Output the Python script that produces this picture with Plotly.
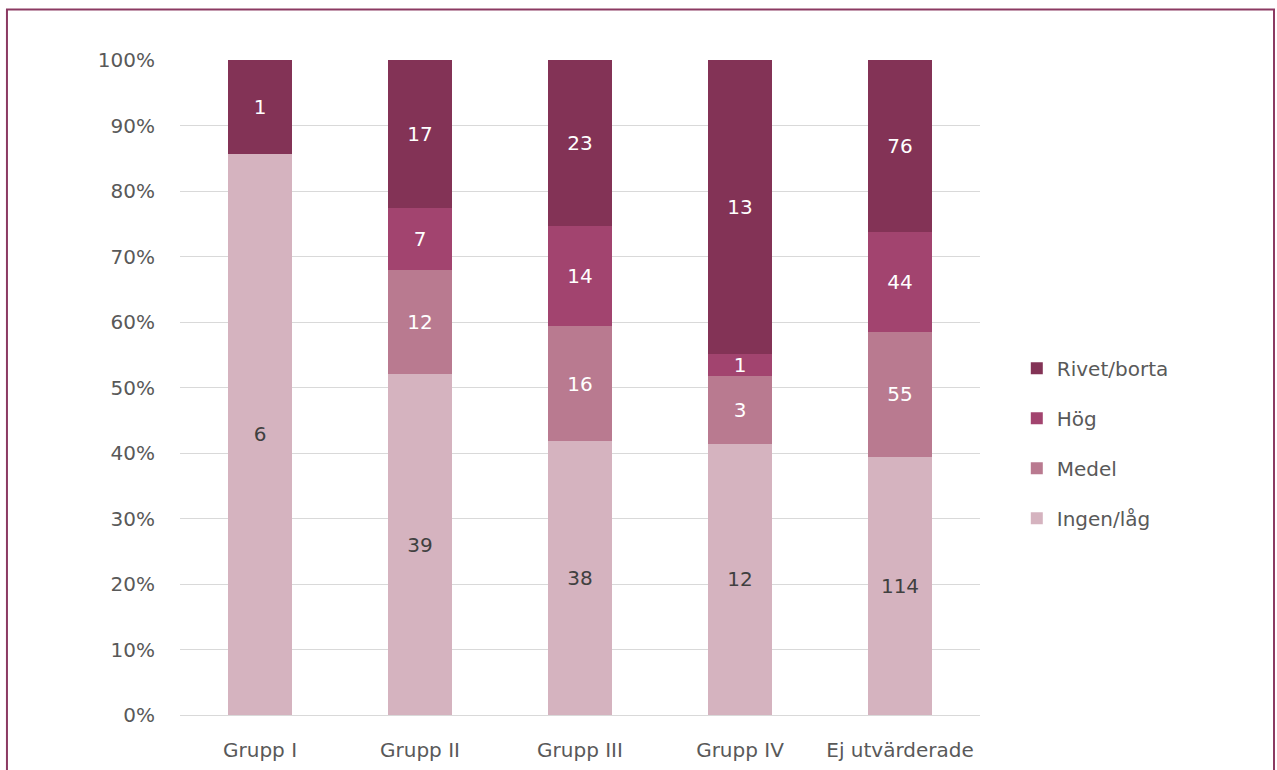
import plotly.graph_objects as go

categories = ["Grupp I", "Grupp II", "Grupp III", "Grupp IV", "Ej utvärderade"]
ingen_lag = [6, 39, 38, 12, 114]
medel = [None, 12, 16, 3, 55]
hog = [None, 7, 14, 1, 44]
rivet_borta = [1, 17, 23, 13, 76]

series = [
    ("Ingen/låg", ingen_lag, "#d5b3bf", "#404040", 4),
    ("Medel", medel, "#b97a90", "#ffffff", 3),
    ("Hög", hog, "#a2446f", "#ffffff", 2),
    ("Rivet/borta", rivet_borta, "#833356", "#ffffff", 1),
]

FONT = "DejaVu Sans"

fig = go.Figure()
for i, (name, vals, color, tcolor, rank) in enumerate(series):
    fig.add_trace(go.Bar(
        x=categories,
        y=vals,
        name=name,
        marker=dict(color=color, line=dict(width=0)),
        text=[str(v) if v is not None else "" for v in vals],
        textposition="inside",
        insidetextanchor="middle",
        textangle=0,
        constraintext="none",
        textfont=dict(color=tcolor, size=20, family=FONT),
        width=0.4,
        legendgroup=f"g{i}",
        legendrank=rank,
    ))

fig.update_layout(
    barmode="stack",
    barnorm="percent",
    width=1277,
    height=770,
    margin=dict(l=180, r=297, t=60, b=55),
    paper_bgcolor="#ffffff",
    plot_bgcolor="#ffffff",
    font=dict(family=FONT, color="#595959", size=20),
    showlegend=True,
    legend=dict(
        x=1.046, xanchor="left",
        y=0.415, yanchor="middle",
        traceorder="grouped",
        tracegroupgap=21,
        font=dict(size=20, color="#595959"),
        itemwidth=30,
    ),
    xaxis=dict(
        showgrid=False,
        showline=True,
        linecolor="#d9d9d9",
        linewidth=1,
        ticks="",
        ticklabelstandoff=17,
        automargin=False,
        tickfont=dict(size=20),
    ),
    yaxis=dict(
        range=[0, 100],
        tickvals=[0, 10, 20, 30, 40, 50, 60, 70, 80, 90, 100],
        ticktext=[f"{v}%" for v in range(0, 101, 10)],
        showgrid=True,
        gridcolor="#d9d9d9",
        gridwidth=1,
        zeroline=False,
        ticks="",
        ticklabelstandoff=24,
        automargin=False,
        tickfont=dict(size=20),
    ),
    shapes=[dict(
        type="rect", xref="paper", yref="paper",
        x0=-0.2163, x1=1.3675, y0=-0.10, y1=1.0771,
        line=dict(color="#8b3a62", width=2),
        fillcolor="rgba(0,0,0,0)",
        layer="below",
    )],
)

fig.write_html("out.html")
